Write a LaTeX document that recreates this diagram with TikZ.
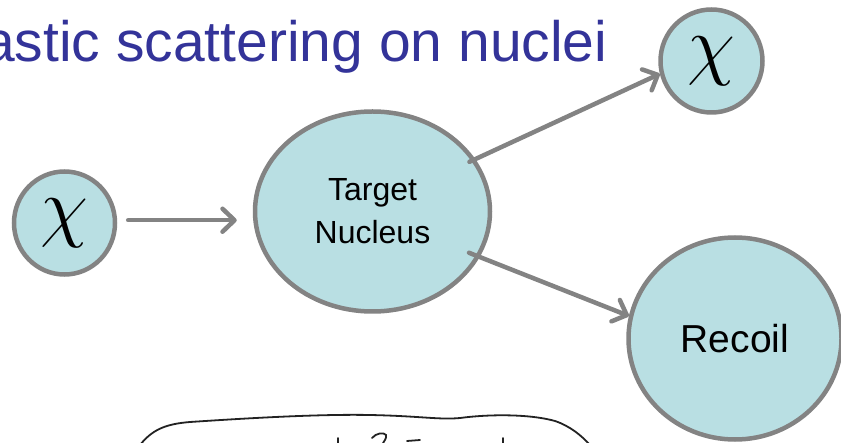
\RequirePackage{fix-cm}
\documentclass[tikz,border=0pt]{standalone}
\usepackage{fontspec}
\setmainfont{Liberation Sans}
\usetikzlibrary{arrows.meta,shapes.geometric}
\definecolor{titleblue}{HTML}{333399}
\definecolor{ballfill}{HTML}{B9DFE3}
\definecolor{edgegray}{HTML}{838383}
\definecolor{inkline}{HTML}{222222}

\begin{document}
\begin{tikzpicture}[x=1pt,y=-1pt,
  ball/.style={ellipse, draw=edgegray, fill=ballfill, line width=4.5pt, inner sep=0pt},
  arr/.style={draw=edgegray, line width=4.5pt, line cap=round,
    -{Straight Barb[length=12pt,width=23pt,line cap=round,line join=round]}},
  chifont/.style={font=\fontsize{78}{90}\selectfont},
  ink/.style={draw=inkline, line width=1.8pt, line cap=round}]
\useasboundingbox (0,0) rectangle (841,443);

% title
\node[anchor=base west, inner sep=0pt, text=titleblue,
      font=\fontsize{57}{66}\selectfont] (title) at (-17,62) {astic scattering on nuclei};

% particles and nucleus
\node[ball, minimum width=101pt, minimum height=103pt, chifont] (chiin) at (64.5,223) {$\chi$};
\node[ball, minimum width=102pt, minimum height=103pt, chifont] (chiout) at (711.5,61) {$\chi$};
\node[ball, minimum width=235pt, minimum height=200pt, align=center,
      font=\fontsize{32}{43}\selectfont] (nuc) at (372.5,211.5) {Target\\Nucleus};
\node[ball, minimum width=213pt, minimum height=202pt,
      font=\fontsize{39}{47}\selectfont] (rec) at (735,338.5) {Recoil};

% scattering arrows
\draw[arr, shorten <=11pt, shorten >=16pt] (chiin.3) -- (chiin.3 -| nuc.west);
\draw[arr, shorten <=-6.5pt] (nuc.27.5) -- (chiout.194);
\draw[arr, shorten <=-11.5pt] (nuc.-23) -- (rec.168);

% hand-drawn box and scribbles below
\draw[ink] (140,445) .. controls (152,430) and (165,424) .. (190,422)
  .. controls (250,418) and (320,414) .. (370,415)
  .. controls (420,416) and (440,420) .. (460,418)
  .. controls (490,414) and (530,414) .. (555,421)
  .. controls (570,426) and (582,436) .. (590,445);
\draw[ink] (338,438) -- (338,445);
\draw[ink] (372,438) .. controls (376,433) and (384,432) .. (386,435)
  .. controls (387,438) and (384,441) .. (382,445);
\draw[ink] (407,441) -- (420,440);
\draw[ink] (503,438) -- (503,445);
\end{tikzpicture}
\end{document}
